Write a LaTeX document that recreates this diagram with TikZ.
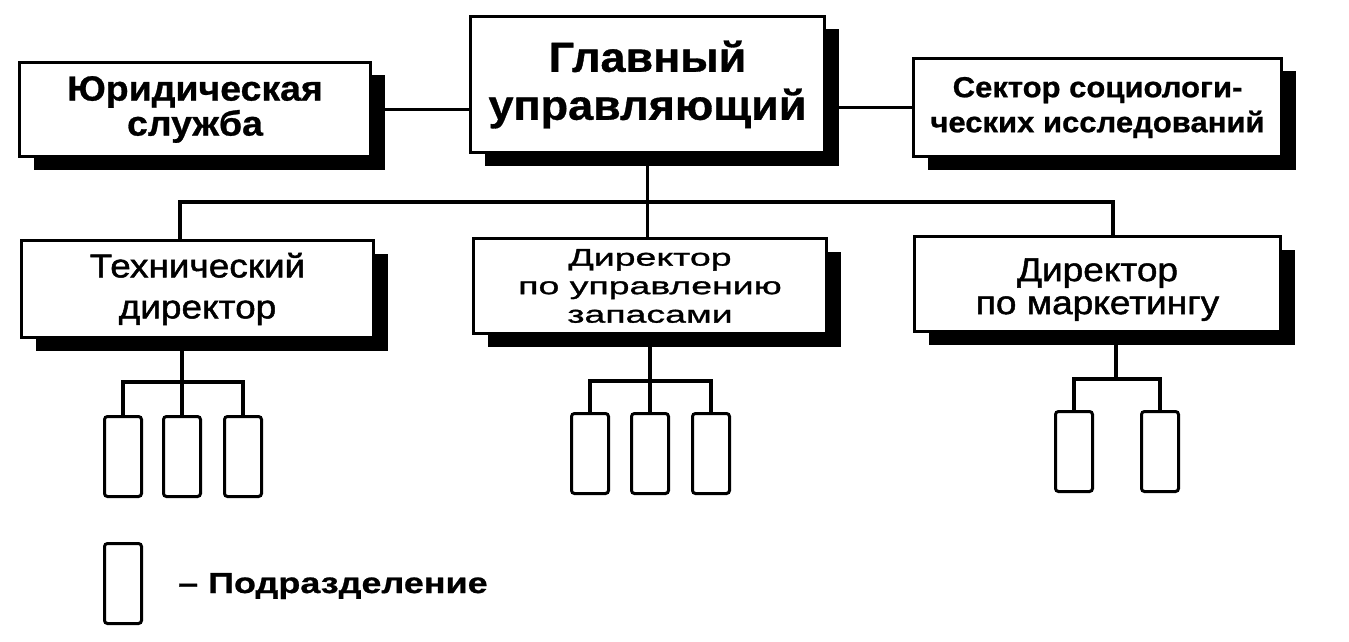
\documentclass[tikz,border=0pt]{standalone}
\usepackage{fontspec}
\setmainfont{Liberation Sans}
\newfontfamily\fA{Liberation Sans}[FakeStretch=1.07, FakeBold=0.8]
\newfontfamily\fT{Liberation Sans}[FakeStretch=1.12, FakeBold=1.5]
\newfontfamily\fM{Liberation Sans}[FakeStretch=1.56, FakeBold=1.2]
\newfontfamily\fL{Liberation Sans}[FakeStretch=1.24, FakeBold=0.8]
\usetikzlibrary{shadows}
\begin{document}
\begin{tikzpicture}[x=1pt,y=-1pt,
  bigbox/.style={draw, line width=3.5pt, fill=white, inner sep=0pt, align=center,
    drop shadow={shadow xshift=14pt, shadow yshift=-13pt, fill=black, opacity=1}},
  subbox/.style={draw, line width=3pt, rounded corners=3pt, fill=white,
    minimum width=37pt, minimum height=80pt, inner sep=0pt},
  conn/.style={line width=3.5pt}]
\useasboundingbox (0,0) rectangle (1349,642);
\fill[white] (0,0) rectangle (1349,642);

% top level
\node[bigbox, minimum width=351pt, minimum height=94pt,
  font=\fA\bfseries\fontsize{35pt}{35pt}\selectfont] (jur) at (195,109.5) {Юридическая\\служба};
\node[bigbox, minimum width=354pt, minimum height=136pt,
  font=\fA\bfseries\fontsize{42pt}{48pt}\selectfont] (main) at (647.5,84.5) {Главный\\управляющий};
\node[bigbox, minimum width=368pt, minimum height=98pt,
  font=\fA\bfseries\fontsize{29pt}{35pt}\selectfont] (sect) at (1097.5,107.5) {Сектор социологи-\\ческих исследований};

% directors
\node[bigbox, minimum width=352pt, minimum height=97pt,
  font=\fT\fontsize{33pt}{41pt}\selectfont] (tech) at (197.5,289) {Технический\\директор};
\node[bigbox, minimum width=353pt, minimum height=95pt,
  font=\fM\fontsize{24pt}{28.5pt}\selectfont] (mid) at (650,286) {Директор\\по управлению\\запасами};
\node[bigbox, minimum width=366pt, minimum height=95pt,
  font=\fT\fontsize{33pt}{33pt}\selectfont] (mkt) at (1097.5,284) {\rule{0pt}{34pt}Директор\\по маркетингу};

% connectors top
\coordinate (bL) at (180,202);
\coordinate (bR) at (1113,202);
\draw[conn] (jur.east) -- (jur.east -| main.west);
\draw[conn] (main.east |- sect.west) -- (sect.west);
\draw[conn] (main.south) -- (main.south |- mid.north);
\draw[conn] (tech.north -| bL) -- (bL) -- (bR) -- (bR |- mkt.north);

% subdivisions
\node[subbox] (t1) at (123,456.5) {};
\node[subbox] (t2) at (182,456.5) {};
\node[subbox] (t3) at (243,456.5) {};
\node[subbox] (m1) at (590,453.5) {};
\node[subbox] (m2) at (650,453.5) {};
\node[subbox] (m3) at (711,453.5) {};
\node[subbox] (k1) at (1074,451.5) {};
\node[subbox] (k2) at (1160,451.5) {};

\coordinate (tb) at (182,382);
\coordinate (mb) at (650,381);
\coordinate (kb) at (1116,379);
\draw[conn] (tech.south -| tb) -- (t2.north);
\draw[conn] (t1.north) -- (t1.north |- tb) -- (t3.north |- tb) -- (t3.north);
\draw[conn] (mid.south -| mb) -- (m2.north);
\draw[conn] (m1.north) -- (m1.north |- mb) -- (m3.north |- mb) -- (m3.north);
\draw[conn] (mkt.south -| kb) -- (kb);
\draw[conn] (k1.north) -- (k1.north |- kb) -- (k2.north |- kb) -- (k2.north);

% legend
\node[subbox] (leg) at (123,583.5) {};
\node[anchor=base west, inner sep=0pt, font=\fL\bfseries\fontsize{29pt}{29pt}\selectfont] (legtxt) at (178,593) {– Подразделение};
\end{tikzpicture}
\end{document}
